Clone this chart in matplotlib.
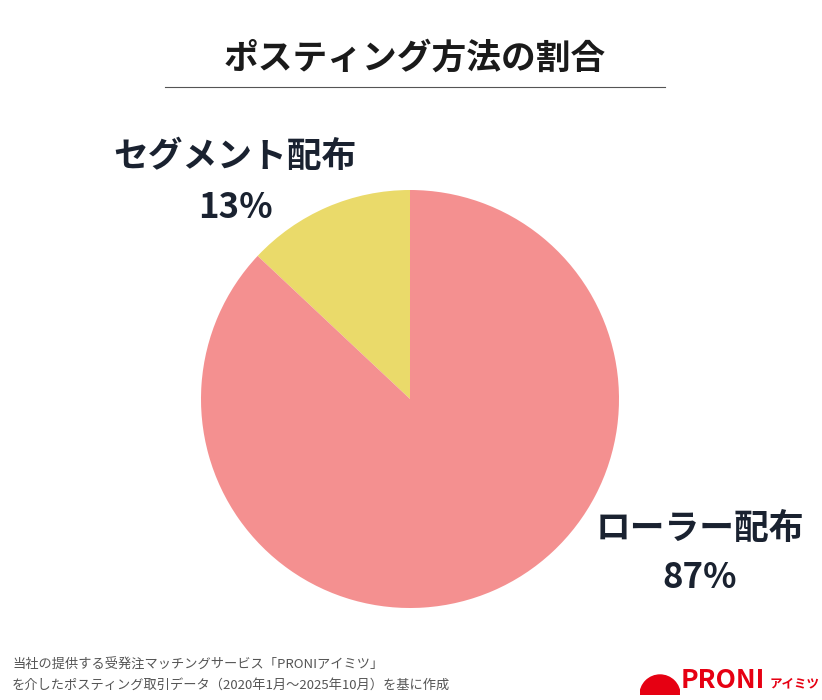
import matplotlib.pyplot as plt
from matplotlib.patches import Wedge

plt.rcParams['font.family'] = ['Noto Sans CJK JP', 'DejaVu Sans']

labels = ["セグメント配布", "ローラー配布"]
values = [13, 87]
colors = ["#EADA6A", "#F49090"]

W, H = 822, 700
fig = plt.figure(figsize=(W / 100, H / 100), dpi=100)
fig.patch.set_facecolor("white")

# pie axes: center (410,399), radius ~209
r = 209
ax = fig.add_axes([(410 - r) / W, 1 - (399 + r) / H, 2 * r / W, 2 * r / H])
ax.pie(values, colors=colors, startangle=90, counterclock=True,
       wedgeprops=dict(linewidth=0))
ax.set_xlim(-1, 1); ax.set_ylim(-1, 1)
ax.set_aspect("equal")
ax.axis("off")

fig.text(415 / W, 1 - 58 / H, "ポスティング方法の割合", ha="center", va="center",
         fontsize=25, fontweight="bold", color="#1a1a1a")
fig.add_artist(plt.Line2D([165 / W, 665 / W], [1 - 87 / H, 1 - 87 / H], color="#555555", lw=0.8))

kw = dict(ha="center", va="center", fontsize=25, fontweight="bold", color="#1a2230")
fig.text(235 / W, 1 - 157 / H, labels[0], **kw)
fig.text(235 / W, 1 - 207 / H, f"{values[0]}%", **kw)
fig.text(700 / W, 1 - 528 / H, labels[1], **kw)
fig.text(700 / W, 1 - 578 / H, f"{values[1]}%", **kw)

fig.text(12 / W, 1 - 665 / H, "当社の提供する受発注マッチングサービス「PRONIアイミツ」", ha="left", va="center",
         fontsize=9.5, color="#555555")
fig.text(12 / W, 1 - 685 / H, "を介したポスティング取引データ（2020年1月〜2025年10月）を基に作成", ha="left", va="center",
         fontsize=9.5, color="#555555")

# logo
lax = fig.add_axes([640 / W, 1 - 695 / H, 40 / W, 40 / H])
lax.add_patch(Wedge((0.5, 0.0), 0.5, 0, 180, color="#E60012"))
lax.set_xlim(0, 1); lax.set_ylim(0, 1); lax.set_aspect("equal"); lax.axis("off")
fig.text(681 / W, 1 - 680 / H, "PRONI", ha="left", va="center", fontsize=19, fontweight="bold",
         fontstyle="italic", color="#E60012")
fig.text(770 / W, 1 - 684 / H, "アイミツ", ha="left", va="center", fontsize=9, fontweight="bold", color="#E60012")

fig.savefig("out.png", dpi=100)
